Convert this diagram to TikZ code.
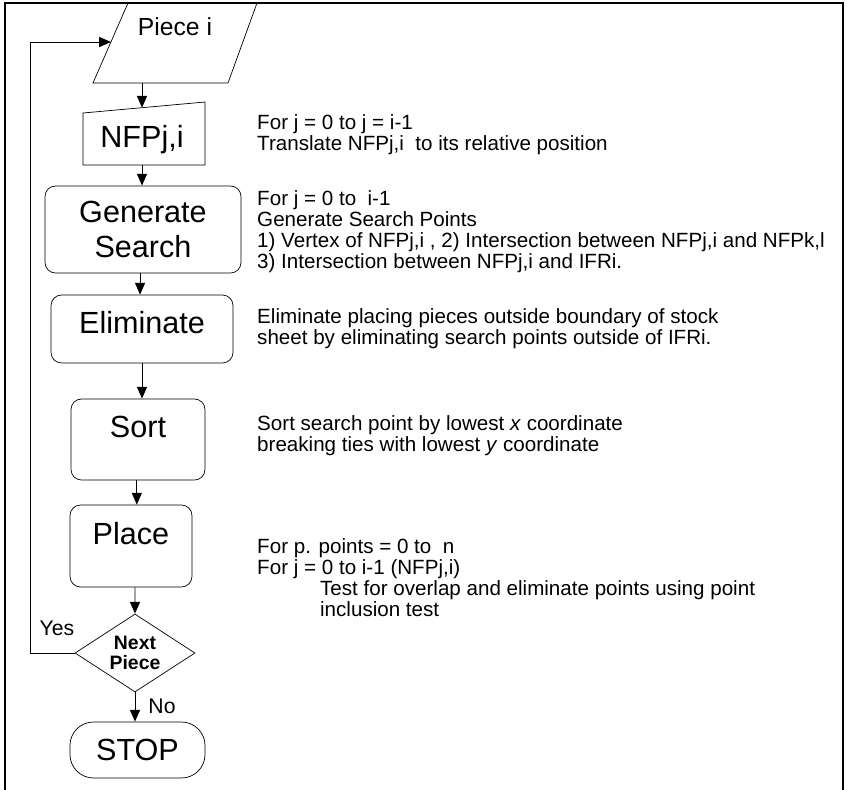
\documentclass[tikz,border=0pt]{standalone}
\usepackage{fontspec}
\setmainfont{Liberation Sans}
\usetikzlibrary{shapes.geometric,arrows.meta,positioning}
\begin{document}
\begin{tikzpicture}[x=0.85pt, y=-0.85pt,
    outline/.style={draw, line width=0.6pt},
    procbox/.style={outline, rectangle, rounded corners=9pt, font=\fontsize{26}{30}\selectfont, align=center, inner sep=0pt},
    flow/.style={-{Triangle[length=10pt,width=8.5pt]}, line width=0.8pt},
    note/.style={anchor=west, align=left, inner sep=0pt, font=\fontsize{17.5}{17.9}\selectfont}]
				\useasboundingbox (0,0) rectangle (847,790);

				% Frame
				\draw[line width=1.5pt] (5,790) -- (5,3) -- (843,3) -- (843,790);

				% Piece i
				\draw[outline] (128,3) -- (257,3) -- (228,83) -- (93,83) -- cycle;
				\node[font=\fontsize{21}{24}\selectfont, inner sep=0pt] (piece) at (175,27) {Piece i};
				\coordinate (piece-s) at (142,83);
				\coordinate (piece-w) at (111,42);

				% NFPj,i
				\draw[outline] (83,113) -- (205,102) -- (205,165) -- (83,165) -- cycle;
				\node[font=\fontsize{26}{30}\selectfont, inner sep=0pt] (nfp) at (142,140) {NFPj,i};
				\coordinate (nfp-n) at (142,107.7);
				\coordinate (nfp-s) at (142,165);

				% Steps
				\node[procbox, minimum width=166.6pt, minimum height=74pt] (gen) at (143,229.5) {Generate\\Search};
				\node[procbox, minimum width=154.7pt, minimum height=57.8pt, text depth=12pt] (elim) at (142,329) {Eliminate};
				\node[procbox, minimum width=113.9pt, minimum height=68.9pt, text depth=21pt] (sort) at (138,439.5) {Sort};
				\node[procbox, minimum width=103.7pt, minimum height=69.7pt, text depth=22pt] (place) at (131,546) {Place};

				% Next piece
				\node[outline, diamond, aspect=1.5, minimum width=102pt, minimum height=66.3pt, inner sep=0pt,
				      font=\bfseries\fontsize{16.5}{17}\selectfont, align=center] (next) at (135,653) {Next\\Piece};

				% Stop
				\node[outline, rectangle, rounded corners=20pt, minimum width=114.8pt, minimum height=47.6pt,
				      font=\fontsize{26}{30}\selectfont, inner sep=0pt] (stop) at (137.5,750) {STOP};

				% Connections
				\draw[flow] (piece-s) -- (nfp-n);
				\draw[flow] (nfp-s) -- (nfp-s |- gen.north);
				\draw[flow] ([xshift=-2.5pt]gen.south) -- ([xshift=-2.5pt]gen.south |- elim.north);
				\draw[flow] (elim.south) -- (elim.south |- sort.north);
				\draw[flow] ([xshift=-1pt]sort.south) -- ([xshift=-1pt]sort.south |- place.north);
				\draw[flow] ([xshift=3.4pt]place.south) -- (next.north);
				\draw[flow] (next.south) -- (next.south |- stop.north);
				\draw[flow] (next.west) -- (30,653) -- (30,42) -- (piece-w);

				\node[font=\fontsize{18}{20}\selectfont, inner sep=0pt] (yes) at (57,628) {Yes};
				\node[font=\fontsize{18}{20}\selectfont, inner sep=0pt] (no) at (162,706) {No};

				% Notes
				\node[note] (transnote) at (257,135) {For j = 0 to j = i-1\\Translate NFPj,i\ \ to its relative position};
				\node[note] (gennote) at (257,231.5) {For j = 0 to\ \ i-1\\Generate Search Points\\1) Vertex of NFPj,i , 2) Intersection between NFPj,i and NFPk,l\\3) Intersection between NFPj,i and IFRi.};
				\node[note] (elimnote) at (257,328.5) {Eliminate placing pieces outside boundary of stock\\sheet by eliminating search points outside of IFRi.};
				\node[note] (sortnote) at (257,436) {Sort search point by lowest \textit{x} coordinate\\breaking ties with lowest \textit{y} coordinate};
				\node[note] (placenote) at (257,578) {For p. points = 0 to\ \ n\\For j = 0 to i-1 (NFPj,i)\\\hspace*{53.5pt}Test for overlap and eliminate points using point\\\hspace*{53.5pt}inclusion test};
			\end{tikzpicture}
\end{document}
